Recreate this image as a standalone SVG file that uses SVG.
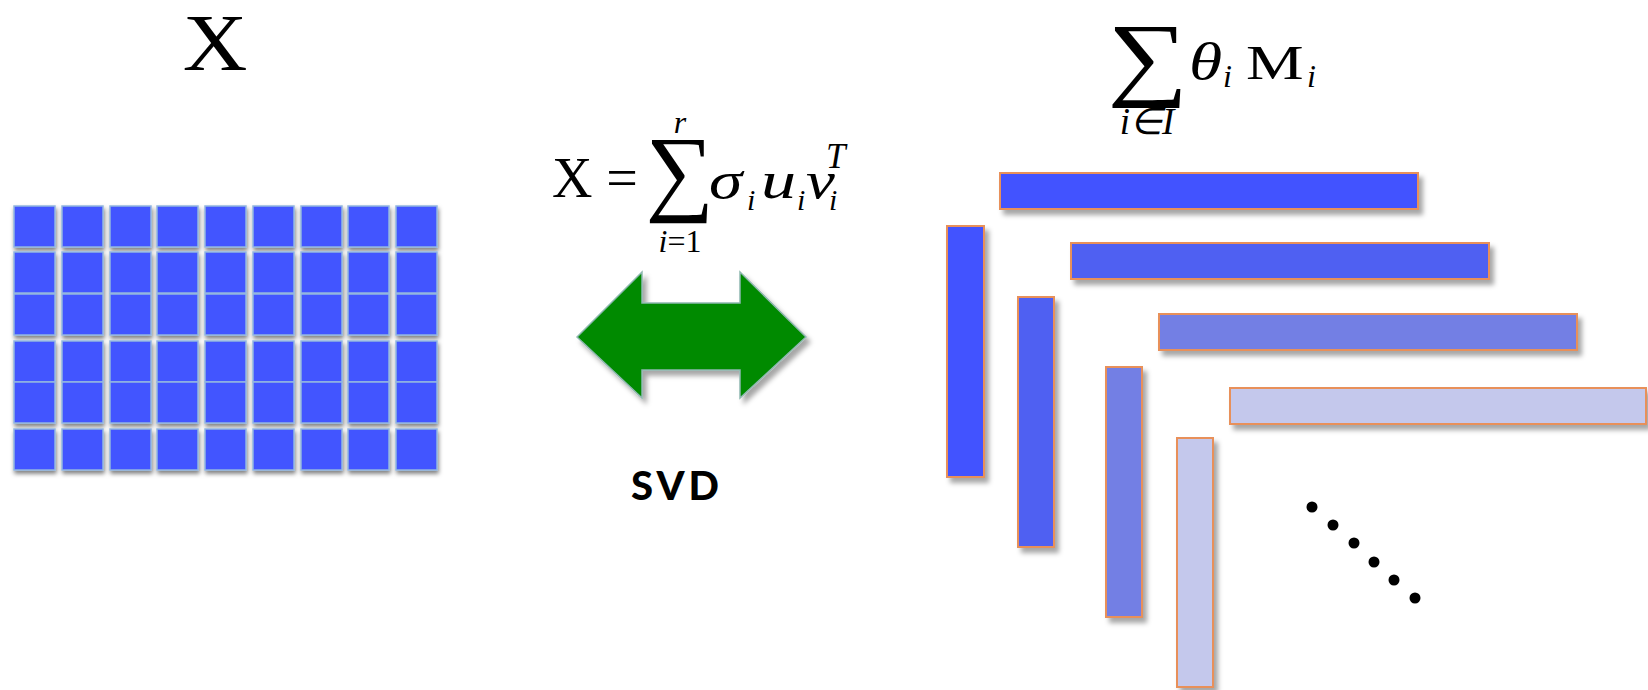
<svg xmlns="http://www.w3.org/2000/svg" width="1648" height="690" viewBox="0 0 1648 690">
<defs>
<filter id="sh" x="-20%" y="-20%" width="150%" height="150%"><feDropShadow dx="4" dy="5" stdDeviation="2.5" flood-color="#000" flood-opacity="0.35"/></filter>
<filter id="gsh" x="-30%" y="-30%" width="160%" height="160%"><feDropShadow dx="1" dy="3" stdDeviation="2" flood-color="#000" flood-opacity="0.5"/></filter>
<style>
.m{font-family:"Liberation Serif","Times New Roman",serif;fill:#000}
.it{font-style:italic}
.cell{fill:#4254ff;stroke:#93b6e0;stroke-width:1.5}
.bar{stroke:#e8905a;stroke-width:2}
.c1{fill:#4353ff}.c2{fill:#5060f2}.c3{fill:#737fe4}.c4{fill:#c4c8ec}
</style>
</defs>
<rect width="1648" height="690" fill="#fff"/>
<g id="title-x"><text class="m" transform="translate(215,70) scale(1.12,1)" font-size="80" text-anchor="middle">X</text></g>
<g id="matrix-x" filter="url(#gsh)">
<g id="row1"><rect class="cell" x="14" y="206" width="41" height="41"/><rect class="cell" x="62" y="206" width="41" height="41"/><rect class="cell" x="110" y="206" width="41" height="41"/><rect class="cell" x="157" y="206" width="41" height="41"/><rect class="cell" x="205" y="206" width="41" height="41"/><rect class="cell" x="253" y="206" width="41" height="41"/><rect class="cell" x="301" y="206" width="41" height="41"/><rect class="cell" x="348" y="206" width="41" height="41"/><rect class="cell" x="396" y="206" width="41" height="41"/></g>
<g id="row2"><rect class="cell" x="14" y="252" width="41" height="41"/><rect class="cell" x="62" y="252" width="41" height="41"/><rect class="cell" x="110" y="252" width="41" height="41"/><rect class="cell" x="157" y="252" width="41" height="41"/><rect class="cell" x="205" y="252" width="41" height="41"/><rect class="cell" x="253" y="252" width="41" height="41"/><rect class="cell" x="301" y="252" width="41" height="41"/><rect class="cell" x="348" y="252" width="41" height="41"/><rect class="cell" x="396" y="252" width="41" height="41"/></g>
<g id="row3"><rect class="cell" x="14" y="294" width="41" height="41"/><rect class="cell" x="62" y="294" width="41" height="41"/><rect class="cell" x="110" y="294" width="41" height="41"/><rect class="cell" x="157" y="294" width="41" height="41"/><rect class="cell" x="205" y="294" width="41" height="41"/><rect class="cell" x="253" y="294" width="41" height="41"/><rect class="cell" x="301" y="294" width="41" height="41"/><rect class="cell" x="348" y="294" width="41" height="41"/><rect class="cell" x="396" y="294" width="41" height="41"/></g>
<g id="row4"><rect class="cell" x="14" y="341" width="41" height="41"/><rect class="cell" x="62" y="341" width="41" height="41"/><rect class="cell" x="110" y="341" width="41" height="41"/><rect class="cell" x="157" y="341" width="41" height="41"/><rect class="cell" x="205" y="341" width="41" height="41"/><rect class="cell" x="253" y="341" width="41" height="41"/><rect class="cell" x="301" y="341" width="41" height="41"/><rect class="cell" x="348" y="341" width="41" height="41"/><rect class="cell" x="396" y="341" width="41" height="41"/></g>
<g id="row5"><rect class="cell" x="14" y="382" width="41" height="41"/><rect class="cell" x="62" y="382" width="41" height="41"/><rect class="cell" x="110" y="382" width="41" height="41"/><rect class="cell" x="157" y="382" width="41" height="41"/><rect class="cell" x="205" y="382" width="41" height="41"/><rect class="cell" x="253" y="382" width="41" height="41"/><rect class="cell" x="301" y="382" width="41" height="41"/><rect class="cell" x="348" y="382" width="41" height="41"/><rect class="cell" x="396" y="382" width="41" height="41"/></g>
<g id="row6"><rect class="cell" x="14" y="429" width="41" height="41"/><rect class="cell" x="62" y="429" width="41" height="41"/><rect class="cell" x="110" y="429" width="41" height="41"/><rect class="cell" x="157" y="429" width="41" height="41"/><rect class="cell" x="205" y="429" width="41" height="41"/><rect class="cell" x="253" y="429" width="41" height="41"/><rect class="cell" x="301" y="429" width="41" height="41"/><rect class="cell" x="348" y="429" width="41" height="41"/><rect class="cell" x="396" y="429" width="41" height="41"/></g>
</g>
<g id="svd-formula">
<text class="m" x="552" y="197" font-size="56">X</text>
<text class="m" x="622" y="197" font-size="56" text-anchor="middle">=</text>
<text class="m" x="680" y="203" font-size="96" text-anchor="middle">∑</text>
<text class="m it" x="680" y="133" font-size="32" text-anchor="middle">r</text>
<text class="m" x="680" y="252" font-size="32" text-anchor="middle"><tspan class="it">i</tspan>=1</text>
<text class="m it" transform="translate(709,198) scale(1.3,1)" font-size="52">σ</text>
<text class="m it" x="747" y="210" font-size="30">i</text>
<text class="m it" transform="translate(761,198) scale(1.35,1)" font-size="52">u</text>
<text class="m it" x="797" y="210" font-size="30">i</text>
<text class="m it" transform="translate(806,198) scale(1.25,1)" font-size="52">v</text>
<text class="m it" x="829" y="210" font-size="30">i</text>
<text class="m it" x="826" y="168" font-size="35">T</text>
</g>
<g id="svd-arrow">
<path d="M577,337 L642,272 L642,303 L740,303 L740,272 L806,337 L740,398 L740,370 L642,370 L642,398 Z" fill="#008a00" stroke="#8fb8b0" stroke-width="1.5" filter="url(#sh)"/>
<text x="677" y="500" font-family="Lato,'Open Sans',sans-serif" font-weight="900" font-size="40" text-anchor="middle" letter-spacing="4">SVD</text>
</g>
<g id="sum-formula">
<text class="m" transform="translate(1148,88) scale(1.22,1)" font-size="93" text-anchor="middle">∑</text>
<text class="m it" transform="translate(1189,79) scale(1.3,1)" font-size="52">θ</text>
<text class="m it" x="1223" y="87" font-size="32">i</text>
<text class="m" transform="translate(1246,79) scale(1.35,1)" font-size="48">M</text>
<text class="m it" x="1307" y="87" font-size="32">i</text>
<text class="m it" x="1147" y="134" font-size="37" text-anchor="middle">i∈I</text>
</g>
<g id="components" filter="url(#sh)">
<rect id="h1" class="bar c1" x="1000" y="173" width="418" height="36"/>
<rect id="h2" class="bar c2" x="1071" y="243" width="418" height="36"/>
<rect id="h3" class="bar c3" x="1159" y="314" width="418" height="36"/>
<rect id="h4" class="bar c4" x="1230" y="388" width="416" height="36"/>
<rect id="v1" class="bar c1" x="947" y="226" width="37" height="251"/>
<rect id="v2" class="bar c2" x="1018" y="297" width="36" height="250"/>
<rect id="v3" class="bar c3" x="1106" y="367" width="36" height="250"/>
<rect id="v4" class="bar c4" x="1177" y="438" width="36" height="249"/>
</g>
<g id="ellipsis" fill="#000">
<circle cx="1312" cy="507" r="5.5"/><circle cx="1333" cy="525" r="5.5"/><circle cx="1354" cy="543" r="5.5"/><circle cx="1374" cy="562" r="5.5"/><circle cx="1394" cy="580" r="5.5"/><circle cx="1415" cy="598" r="5.5"/>
</g>
</svg>
